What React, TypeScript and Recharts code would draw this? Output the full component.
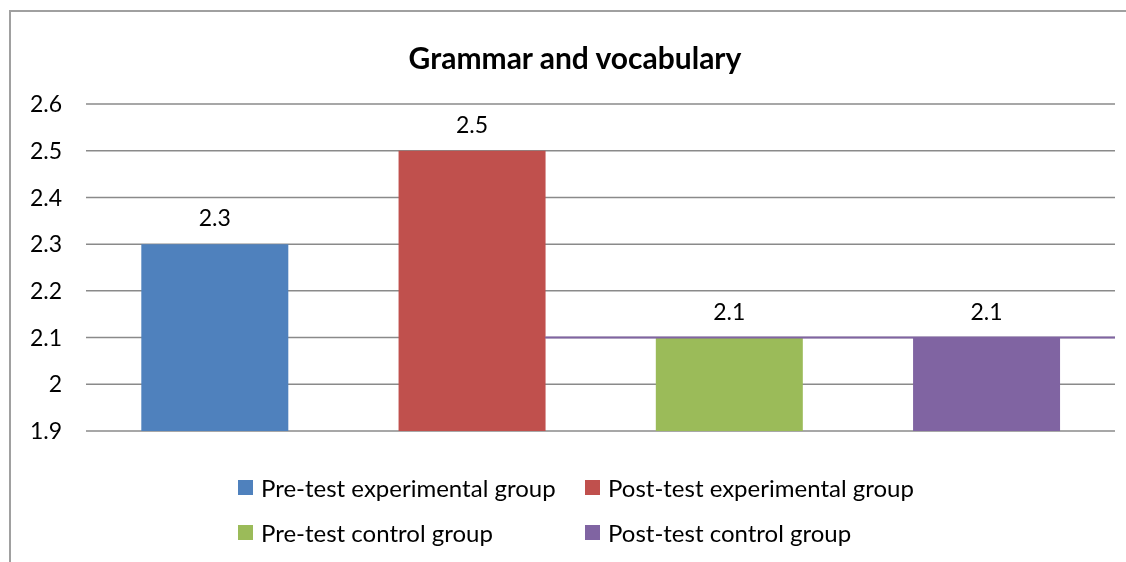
import { Bar, BarChart, CartesianGrid, Cell, LabelList, ReferenceLine, XAxis, YAxis } from 'recharts'

const groups = [
  'Pre-test experimental group',
  'Post-test experimental group',
  'Pre-test control group',
  'Post-test control group',
]
const scores = [2.3, 2.5, 2.1, 2.1]
const colors = ['#4F81BD', '#C0504D', '#9BBB59', '#8064A2']
const yTicks = [1.9, 2, 2.1, 2.2, 2.3, 2.4, 2.5, 2.6]

const data = groups.map((g, i) => ({ group: g, score: scores[i] }))

const FONT = 'Lato, "Open Sans", sans-serif'
const GAP = 0.215 // barCategoryGap per side

// the source chart has a stray purple edge at 2.1 running from the red bar to the right edge
function StrayEdge(p: any) {
  const w = p.x2 - p.x1
  const start = p.x1 + (w * (1.5 + (1 - 2 * GAP) / 2)) / groups.length
  return <line x1={start} y1={p.y1} x2={p.x2} y2={p.y2} stroke={colors[3]} strokeWidth={2} />
}

export default function App() {
  return (
    <div style={{ position: 'relative', width: 1118, height: 546, overflow: 'hidden', fontFamily: FONT }}>
      <div
        style={{
          position: 'fixed',
          left: 9,
          top: 10,
          width: 'calc(100vw - 9px)',
          height: 'calc(100vh - 10px)',
          boxSizing: 'border-box',
          borderLeft: '2px solid #a0a0a0',
          borderTop: '2px solid #a0a0a0',
        }}
      />
      <div
        style={{
          position: 'absolute',
          left: 567,
          top: 32,
          transform: 'translateX(-50%)',
          fontWeight: 700,
          fontSize: 30,
          lineHeight: '34px',
          whiteSpace: 'nowrap',
          color: '#000',
        }}
      >
        Grammar and vocabulary
      </div>
      <BarChart
        width={1118}
        height={546}
        data={data}
        margin={{ top: 96, right: 11, left: 0, bottom: 123 }}
        barCategoryGap={`${GAP * 100}%`}
        style={{ position: 'absolute', left: 0, top: 0 }}
      >
        <CartesianGrid vertical={false} stroke="#8a8a8a" strokeWidth={1.5} />
        <XAxis dataKey="group" hide />
        <YAxis
          width={78}
          domain={[1.9, 2.6]}
          ticks={yTicks}
          interval={0}
          axisLine={false}
          tickLine={false}
          tickMargin={18}
          tick={{ fontSize: 23, fill: '#000', fontFamily: FONT }}
        />
        <Bar dataKey="score" isAnimationActive={false}>
          {data.map((d, i) => (
            <Cell key={d.group} fill={colors[i]} />
          ))}
          <LabelList dataKey="score" position="top" offset={18} fill="#000" fontSize={23} fontFamily={FONT} />
        </Bar>
        <ReferenceLine y={2.1} shape={StrayEdge} />
      </BarChart>
      <div
        style={{
          position: 'absolute',
          left: 230,
          top: 464,
          display: 'grid',
          gridTemplateColumns: '347px auto',
          rowGap: 15,
          fontSize: 24,
          color: '#000',
        }}
      >
        {groups.map((g, i) => (
          <div key={g} style={{ display: 'flex', alignItems: 'center', height: 30, whiteSpace: 'nowrap' }}>
            <span style={{ width: 15, height: 15, background: colors[i], marginRight: 8, flex: 'none' }} />
            {g}
          </div>
        ))}
      </div>
    </div>
  )
}
